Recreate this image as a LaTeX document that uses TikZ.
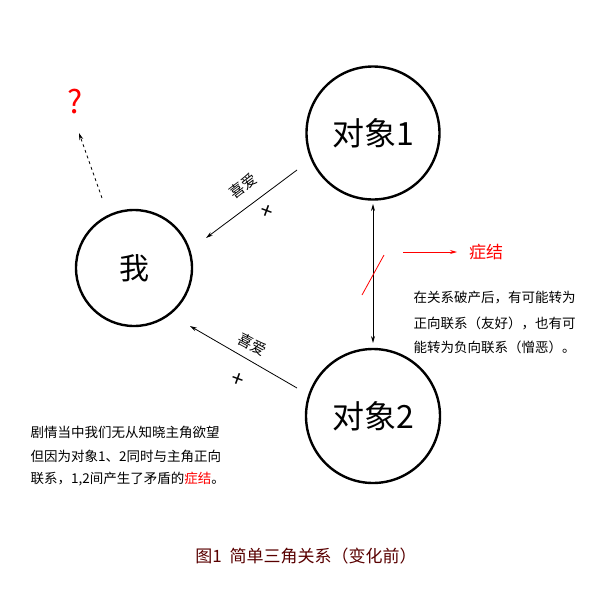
\documentclass[tikz,border=0pt]{standalone}
\usepackage{fontspec}
\setmainfont{Noto Sans CJK SC}
\setsansfont{Noto Sans CJK SC}
\usetikzlibrary{arrows.meta}
\begin{document}
\begin{tikzpicture}[x=1pt,y=-1pt]

\def\thick{2.4pt}
\def\thin{0.8pt}

\tikzset{person/.style = {draw, circle, line width=\thick, inner sep=0pt},
         rel/.style = {line width=\thin, -{Stealth[length=7pt,width=4pt]}},
         note/.style = {anchor=west, font=\fontsize{13.5}{14}\selectfont},
         lbl/.style = {font=\fontsize{15}{16}\selectfont, inner sep=0pt},
         sign/.style = {rotate=-20, inner sep=0pt, font=\fontsize{22}{22}\selectfont}}

\useasboundingbox (0,0) rectangle (600,600);

% the three circles
\node[person, minimum size=116pt, font=\fontsize{30}{32}\selectfont] (me) at (134,268) {我};
\node[person, minimum size=133pt, font=\fontsize{32}{34}\selectfont] (obj1) at (373,133) {对象1};
\node[person, minimum size=134pt, font=\fontsize{32}{34}\selectfont] (obj2) at (373,416) {对象2};

% arrow ends
\coordinate (a1s) at (297,170);
\coordinate (a1e) at (206,238);
\coordinate (a2s) at (297,388);
\coordinate (a2e) at (190,326);
\coordinate (vs) at (373,204);
\coordinate (ve) at (373,343);
\coordinate (qs) at (102,198);
\coordinate (qe) at (79,133);
\coordinate (cs) at (362,295);
\coordinate (ce) at (384,255);
\coordinate (rs) at (403,252);
\coordinate (re) at (457,252);

\draw[rel] (a1s) -- (a1e);
\draw[rel] (a2s) -- (a2e);
\draw[rel, {Stealth[length=7pt,width=4pt]}-{Stealth[length=7pt,width=4pt]}] (vs) -- (ve);
\draw[rel, dashed] (qs) -- (qe);
\draw[red, line width=\thin] (cs) -- (ce);
\draw[rel, red] (rs) -- (re);

% labels
\node[lbl, rotate=37] (like1) at (243,186) {喜爱};
\node[lbl, rotate=-28] (like2) at (252,344) {喜爱};
\node[sign] (plus1) at (267,212) {+};
\node[sign] (plus2) at (238,380) {+};
\node[red, font=\fontsize{32}{32}\selectfont] (quest) at (75,102) {?};
\node[red, font=\fontsize{17}{18}\selectfont] (knot) at (486,252) {症结};

% notes
\node[note] (n1) at (410,298) {在关系破产后，有可能转为};
\node[note] (n2) at (410,323) {正向联系（友好），也有可};
\node[note] (n3) at (410,347) {能转为负向联系（憎恶）。};

\node[note] (m1) at (27,432) {剧情当中我们无从知晓主角欲望};
\node[note] (m2) at (27,456) {但因为对象1、2同时与主角正向};
\node[note] (m3) at (27,479) {联系，1,2间产生了矛盾的\textcolor{red}{症结}。};

\node[font=\fontsize{17}{18}\selectfont, text=red!35!black] (title) at (306,556) {图1\ \ 简单三角关系（变化前）};

\end{tikzpicture}
\end{document}
